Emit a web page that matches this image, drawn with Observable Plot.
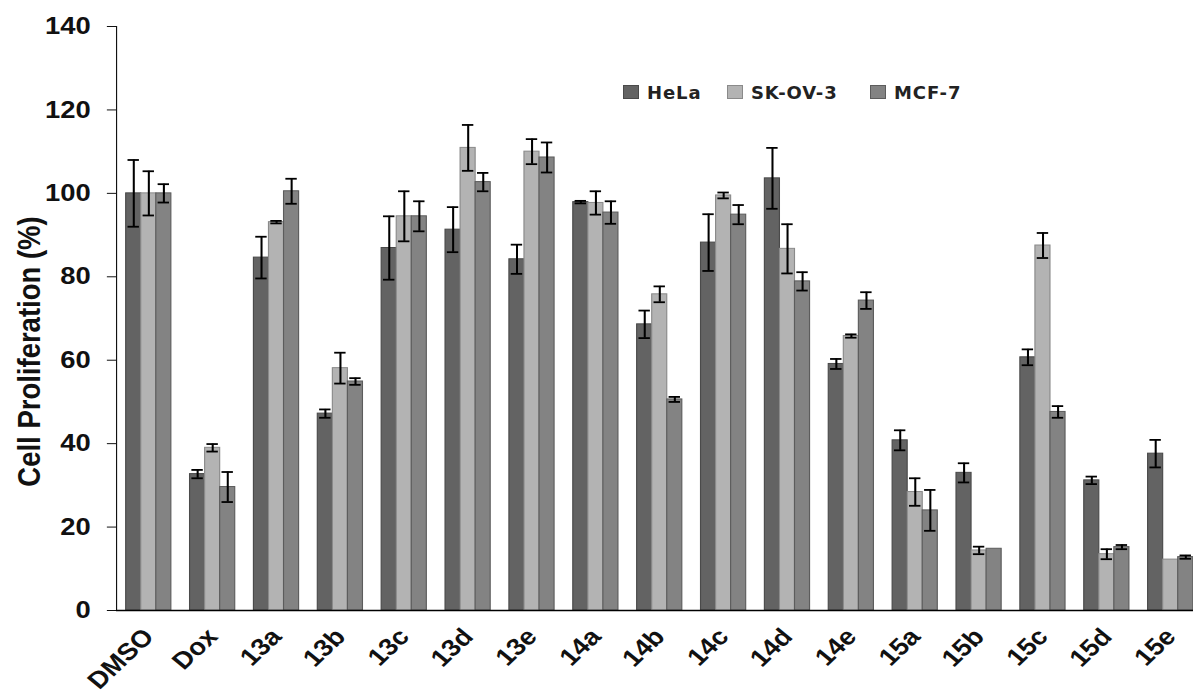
<!DOCTYPE html>
<html>
<head>
<meta charset="utf-8">
<script src="https://cdn.jsdelivr.net/npm/d3@7"></script>
<script src="https://cdn.jsdelivr.net/npm/@observablehq/plot@0.6"></script>
<style>
  html, body { margin: 0; padding: 0; background: #fff; }
  #wrap { position: relative; width: 1193px; height: 693px; overflow: hidden; }
  #legend { position: absolute; left: 0; top: 0; width: 1193px; height: 0; font-family: "DejaVu Sans", Verdana, sans-serif; font-weight: bold; font-size: 18px; color: #222; }
  .item { position: absolute; top: 83px; display: flex; align-items: center; height: 18px; letter-spacing: 0.9px; }
  .sw { width: 16px; height: 14px; margin-right: 8px; box-sizing: border-box; border: 1.5px solid; }
</style>
</head>
<body>
<div id="wrap"><div id="legend"></div></div>
<script>
const categories = ["DMSO","Dox","13a","13b","13c","13d","13e","14a","14b","14c","14d","14e","15a","15b","15c","15d","15e"];
const series = ["HeLa","SK-OV-3","MCF-7"];
const hela    = [100, 32.7, 84.6, 47.2, 86.9, 91.3, 84.2, 97.9, 68.6, 88.2, 103.6, 59.1, 40.8, 33.0, 60.7, 31.2, 37.6];
const helaErr = [8.0, 1.0, 5.0, 1.0, 7.6, 5.4, 3.5, 0.3, 3.3, 6.8, 7.3, 1.2, 2.4, 2.3, 1.9, 0.9, 3.3];
const skov    = [100, 39.0, 93.1, 58.1, 94.5, 110.9, 110.0, 97.7, 75.8, 99.5, 86.7, 65.8, 28.4, 14.4, 87.5, 13.5, 12.2];
const skovErr = [5.3, 0.9, 0.3, 3.7, 6.0, 5.5, 3.0, 2.8, 1.9, 0.7, 5.9, 0.4, 3.3, 0.9, 3.0, 1.2, 0];
const mcf     = [100, 29.6, 100.5, 54.9, 94.5, 102.7, 108.6, 95.4, 50.6, 94.9, 78.9, 74.3, 24.0, 14.8, 47.6, 15.2, 12.8];
const mcfErr  = [2.2, 3.6, 3.0, 0.8, 3.6, 2.2, 3.6, 2.7, 0.6, 2.3, 2.2, 2.0, 4.9, 0, 1.4, 0.5, 0.4];
const yTicks = [0, 20, 40, 60, 80, 100, 120, 140];
const fills   = ["#636363", "#b3b3b3", "#838383"];
const strokes = ["#4a4a4a", "#8a8a8a", "#5c5c5c"];

const values = [hela, skov, mcf];
const errs = [helaErr, skovErr, mcfErr];
const table = [];
series.forEach((s, i) => categories.forEach((c, j) => table.push({cat: c, series: s, value: values[i][j], err: errs[i][j]})));

// logical layout (SVG is stretched horizontally to the final width)
const W = 1046, H = 693;
const left = 101.7;
const step = 56;
const barW = 13.2;
const gap = (step - 3 * barW) / 2;
const capHalf = 5;

const marks = [];
series.forEach((s, i) => {
  const d = table.filter(r => r.series === s);
  marks.push(Plot.barY(d, {
    x: "cat", y: "value", fill: fills[i], stroke: strokes[i], strokeWidth: 1,
    insetLeft: gap + i * barW, insetRight: step - gap - (i + 1) * barW
  }));
});
series.forEach((s, i) => {
  const d = table.filter(r => r.series === s && r.err > 0);
  const c = gap + (i + 0.5) * barW;
  marks.push(Plot.ruleX(d, {x: "cat", y1: r => r.value - r.err, y2: r => r.value + r.err, dx: c - step / 2, stroke: "#000", strokeWidth: 1.8}));
  marks.push(Plot.tickY(d, {x: "cat", y: r => r.value + r.err, insetLeft: c - capHalf, insetRight: step - c - capHalf, stroke: "#000", strokeWidth: 1.8}));
  marks.push(Plot.tickY(d, {x: "cat", y: r => r.value - r.err, insetLeft: c - capHalf, insetRight: step - c - capHalf, stroke: "#000", strokeWidth: 1.8}));
});
marks.push(Plot.ruleY([0], {stroke: "#000", strokeWidth: 1.5}));
marks.push(Plot.axisX({tickRotate: -47, tickSize: 0, tickPadding: 22, fontSize: 24, label: null}));
marks.push(Plot.text(["Cell Proliferation (%)"], {frameAnchor: "left", textAnchor: "middle", rotate: -90, dx: -76, dy: 33, fontSize: 27.5, fontWeight: "bold", fill: "#111"}));

const chart = Plot.plot({
  width: W, height: H,
  marginLeft: left, marginRight: 0, marginTop: 26, marginBottom: 83,
  style: {fontFamily: "'Liberation Sans', Arial, sans-serif", fontSize: "24px", fontWeight: "bold", color: "#111", background: "#fff", overflow: "hidden"},
  x: {domain: categories, range: [left, left + step * categories.length], padding: 0, label: null},
  y: {domain: [0, 140], ticks: yTicks, tickSize: 8, tickPadding: 14.7, line: true, label: null},
  marks
});
chart.setAttribute("width", 1193);
chart.setAttribute("height", H);
chart.setAttribute("viewBox", `0 0 ${W} ${H}`);
chart.setAttribute("preserveAspectRatio", "none");
chart.style.width = "1193px";
chart.style.height = H + "px";
chart.style.maxWidth = "none";
document.getElementById("wrap").appendChild(chart);

// legend
const legendPos = [623, 727, 870];
const lg = document.getElementById("legend");
series.forEach((s, i) => {
  const it = document.createElement("div");
  it.className = "item";
  it.style.left = legendPos[i] + "px";
  const sw = document.createElement("span");
  sw.className = "sw";
  sw.style.background = fills[i];
  sw.style.borderColor = strokes[i];
  const t = document.createElement("span");
  t.textContent = s;
  it.appendChild(sw); it.appendChild(t);
  lg.appendChild(it);
});
document.getElementById("wrap").appendChild(lg);
</script>
</body>
</html>
